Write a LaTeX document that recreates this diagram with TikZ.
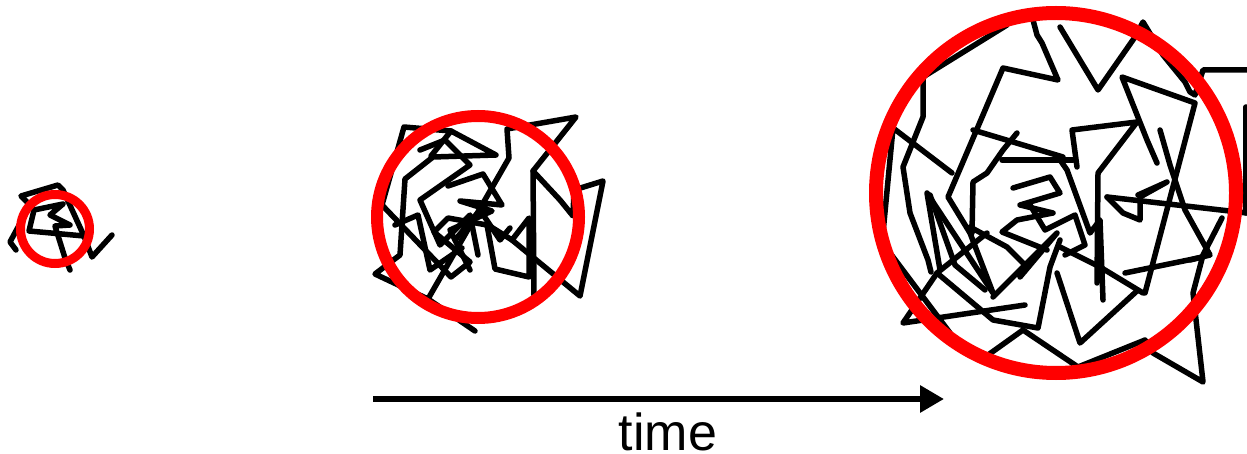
\documentclass[tikz,border=0pt]{standalone}
\usepackage{fontspec}
\setmainfont{Liberation Sans}
\usetikzlibrary{arrows.meta}
\definecolor{ringred}{RGB}{255,0,0}
\begin{document}
\begin{tikzpicture}[x=1pt,y=-1pt,
  walk/.style={draw=black,line width=5.5pt,line join=round,line cap=round},
  ring/.style={draw=ringred},
  timearrow/.style={draw=black,line width=6pt,-{Triangle[length=24pt,width=26pt]}}]
\useasboundingbox (0,0) rectangle (1247,454);

% ---- small walk ----
\draw[walk] (16,250) -- (10,242) -- (30,205) -- (21,196) -- (58,185) -- (63,190) -- (84,236) -- (29,231)
  -- (34,210) -- (63,204) -- (50,215) -- (70,225) -- (55,226) -- (65,258) -- (70,270);
\draw[walk] (84,236) -- (92,257) -- (112,235);

% ---- medium walk ----
\draw[walk] (382,205) -- (404,127) -- (451,131) -- (496,155) -- (433,157) -- (405,179)
  -- (400,255) -- (375,274) -- (428,299) -- (509,158) -- (507,129) -- (576,117)
  -- (533,171) -- (534,296);
\draw[walk] (533,171) -- (560,200) -- (573,216) -- (574,190) -- (603,181) -- (580,296) -- (512,240);
\draw[walk] (382,205) -- (451,277) -- (470,262) -- (434,232) -- (448,218) -- (487,225)
  -- (495,269) -- (529,277) -- (529,218) -- (512,240) -- (488,225);
\draw[walk] (448,186) -- (483,174) -- (502,205) -- (460,201) -- (492,211) -- (450,230) -- (470,270);
\draw[walk] (428,299) -- (475,331);
\draw[walk] (451,131) -- (431,156);
\draw[walk] (455,240) -- (480,210) -- (500,240) -- (510,228);
\draw[walk] (420,150) -- (445,140) -- (470,165) -- (420,200) -- (440,245) -- (470,215) -- (478,255);
\draw[walk] (395,225) -- (418,215) -- (430,270) -- (462,248);

% ---- large walk ----
\draw[walk] (1007,25) -- (923,77) -- (923,117) -- (903,167) -- (910,213) -- (928,260) -- (931,272);
\draw[walk] (1033,20) -- (1037,35) -- (1042,43) -- (1058,80) -- (1003,68) -- (948,197)
  -- (970,233) -- (993,293) -- (927,193) -- (940,270);
\draw[walk] (1060,27) -- (1098,90) -- (1135,37) -- (1143,22) -- (1163,55) -- (1185,82)
  -- (1190,92) -- (1195,95) -- (1203,70) -- (1247,70);
\draw[walk] (1157,163) -- (1147,140) -- (1122,77) -- (1195,103) -- (1145,293);
\draw[walk] (1077,167) -- (1072,130) -- (1137,122) -- (1098,173) -- (1097,283);
\draw[walk] (973,130) -- (1063,157);
\draw[walk] (1002,160) -- (1073,160);
\draw[walk] (952,173) -- (893,128) -- (883,233);
\draw[walk] (1025,305) -- (903,323) -- (937,273) -- (987,233);
\draw[walk] (890,253) -- (950,333);
\draw[walk] (988,355) -- (1023,330) -- (1078,367) -- (1145,340) -- (1153,353) -- (1203,382)
  -- (1193,293) -- (1203,255) -- (1222,218);
\draw[walk] (1107,197) -- (1247,213);
\draw[walk] (1246,107) -- (1246,213);
\draw[walk] (1057,273) -- (1080,343) -- (1138,290);
\draw[walk] (1013,188) -- (1050,177) -- (1060,193) -- (1020,205) -- (1053,213) -- (1017,220)
  -- (1002,232) -- (1047,250);
\draw[walk] (1058,157) -- (1067,170) -- (1090,233) -- (1100,220) -- (1103,300);
\draw[walk] (1138,195) -- (1167,182) -- (1140,197) -- (1140,220) -- (1123,213) -- (1107,197);
\draw[walk] (1060,247) -- (1100,267) -- (1143,293);
\draw[walk] (993,297) -- (1057,233) -- (1020,277);
\draw[walk] (970,227) -- (1007,247) -- (1027,267);
\draw[walk] (1203,257) -- (1125,273);
\draw[walk] (937,273) -- (993,320) -- (1038,328) -- (1050,267) -- (1060,240);
\draw[walk] (1017,133) -- (1003,150) -- (987,173) -- (973,182) -- (972,233);
\draw[walk] (1030,205) -- (1045,230) -- (1075,215) -- (1085,245) -- (1065,255);
\draw[walk] (930,195) -- (955,265) -- (985,290);
\draw[walk] (1160,130) -- (1170,165) -- (1185,210) -- (1210,255) -- (1190,260);

% ---- rings ----
\draw[ring,line width=9pt] (55,229) circle[radius=34.5];
\draw[ring,line width=12pt] (478,217) circle[radius=101];
\draw[ring,line width=14pt] (1056,193) circle[radius=180];

% ---- time arrow ----
\coordinate (tstart) at (373,399);
\coordinate (tend) at (944,399);
\draw[timearrow] (tstart) -- (tend);
\node[anchor=base,inner sep=0pt,font=\fontsize{52}{60}\selectfont] (timelbl) at (668,450) {time};
\end{tikzpicture}
\end{document}
